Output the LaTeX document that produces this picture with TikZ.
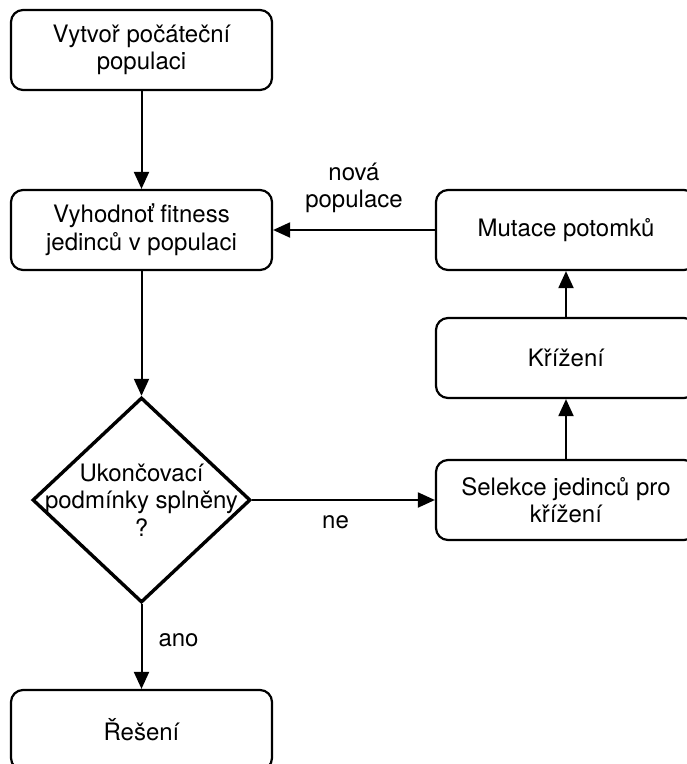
\documentclass[tikz,border=0pt]{standalone}
\usepackage{fontspec}
\setmainfont{TeX Gyre Heros}
\usetikzlibrary{arrows.meta,shapes.geometric}
\begin{document}
\begin{tikzpicture}[x=1pt,y=-1pt,
  txtfont/.style={font=\fontsize{24}{27.6}\selectfont},
  stepbox/.style={draw, line width=2.2pt, rounded corners=12pt,
    minimum width=261pt, minimum height=80pt, align=center, inner sep=0pt, txtfont},
  decision/.style={draw, diamond, line width=3.4pt, inner sep=0pt,
    minimum width=218pt, minimum height=205pt},
  lbl/.style={inner sep=0pt, align=center, txtfont},
  conn/.style={line width=2pt, -{Triangle[length=17pt,width=15pt]}}
]
\useasboundingbox (0,0) rectangle (687,764);
\clip (0,0) rectangle (687,764);

% left column
\node[stepbox] (init) at (141.5,50) {Vytvoř počáteční\\populaci};
\node[stepbox] (eval) at (141.5,230) {Vyhodnoť fitness\\jedinců v populaci};
\node[decision] (dec) at (141.5,500) {};
\node[lbl] (dectext) at (141.5,500) {Ukončovací\\podmínky splněny\\?};
\node[stepbox] (sol) at (141.5,730) {Řešení};

% right column
\node[stepbox, minimum width=260pt] (mut) at (566,230) {Mutace potomků};
\node[stepbox, minimum width=260pt] (cross) at (566,358) {Křížení};
\node[stepbox, minimum width=260pt] (sel) at (566,500) {Selekce jedinců pro\\křížení};

% connectors
\draw[conn] (init.south) -- (eval.north);
\draw[conn] (eval.south) -- (dec.north);
\draw[conn] (dec.south) -- node[lbl, right=16pt, yshift=6pt] {ano} (sol.north);
\draw[conn] (dec.east) -- node[lbl, below=15pt, xshift=-8pt] {ne} (sel.west);
\draw[conn] (sel.north) -- (cross.south);
\draw[conn] (cross.north) -- (mut.south);
\draw[conn] (mut.west) -- node[lbl, above=16pt] {nová\\populace} (eval.east);
\end{tikzpicture}
\end{document}
